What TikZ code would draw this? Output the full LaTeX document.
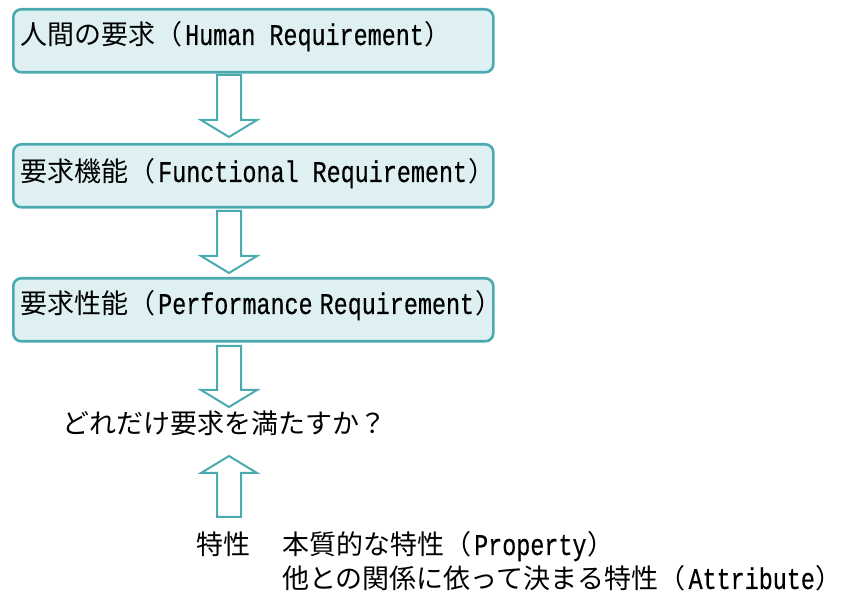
\documentclass[tikz,border=0pt]{standalone}
\usepackage{fontspec}
\setmainfont{Noto Sans CJK JP}
\newfontfamily\latmono[FakeStretch=0.78,FakeBold=0.4]{Liberation Mono}
\usetikzlibrary{calc}
\definecolor{edge}{RGB}{75,170,176}
\definecolor{boxfill}{RGB}{222,240,242}
% half-width Latin run inside full-width parentheses
\newcommand\en[1]{{\fontsize{30pt}{30pt}\selectfont\latmono #1}}
\newcommand\paren[1]{（\hspace{3pt}\en{#1}\hspace{1pt}）}
% hollow block arrow pointing down: #1 top of shaft, #2 tip
\newcommand\downblock[2]{%
  \draw[blockarrow] ($(#1)+(-12,0)$) -- ($(#1)+(12,0)$) -- ($(#2)+(12,-17)$)
    -- ($(#2)+(28,-17)$) -- (#2) -- ($(#2)+(-28,-17)$) -- ($(#2)+(-12,-17)$) -- cycle;}
% hollow block arrow pointing up: #1 tip, #2 bottom of shaft
\newcommand\upblock[2]{%
  \draw[blockarrow] (#1) -- ($(#1)+(28,17)$) -- ($(#1)+(12,17)$) -- ($(#2)+(12,0)$)
    -- ($(#2)+(-12,0)$) -- ($(#1)+(-12,17)$) -- ($(#1)+(-28,17)$) -- cycle;}

\begin{document}
\begin{tikzpicture}[x=1pt,y=-1pt,
  reqbox/.style={draw=edge, fill=boxfill, line width=2.6pt, rounded corners=8pt,
    minimum width=480pt, minimum height=63pt, anchor=north west, inner sep=0pt},
  txt/.style={anchor=base west, inner sep=0pt, font=\fontsize{27pt}{27pt}\selectfont},
  blockarrow/.style={draw=edge, fill=white, line width=2pt, line join=miter}]
\useasboundingbox (0,0) rectangle (847,593);

% requirement boxes
\node[reqbox] (b1) at (12,8) {};
\node[reqbox] (b2) at (12,143) {};
\node[reqbox] (b3) at (12,277) {};

\node[txt] (t1) at (20,45) {人間の要求\paren{Human Requirement}};
\node[txt] (t2) at (20,182) {要求機能\paren{Functional Requirement}};
\node[txt] (t3) at (20,314) {要求性能\paren{Performance\hspace{-7pt} Requirement}};

% arrows between levels
\coordinate (a1s) at (229,75);  \coordinate (a1e) at (229,137);
\coordinate (a2s) at (229,211); \coordinate (a2e) at (229,273);
\coordinate (a3s) at (229,346); \coordinate (a3e) at (229,407);
\coordinate (a4e) at (229,456); \coordinate (a4s) at (229,517);
\downblock{a1s}{a1e}
\downblock{a2s}{a2e}
\downblock{a3s}{a3e}
\upblock{a4e}{a4s}

\node[txt] (q) at (62,434) {どれだけ要求を満たすか？};

\node[txt] (p0) at (196,555) {特性};
\node[txt] (p1) at (282,555) {本質的な特性\paren{Property}};
\node[txt] (p2) at (282,589) {他との関係に依って決まる特性\paren{Attribute}};
\end{tikzpicture}
\end{document}
